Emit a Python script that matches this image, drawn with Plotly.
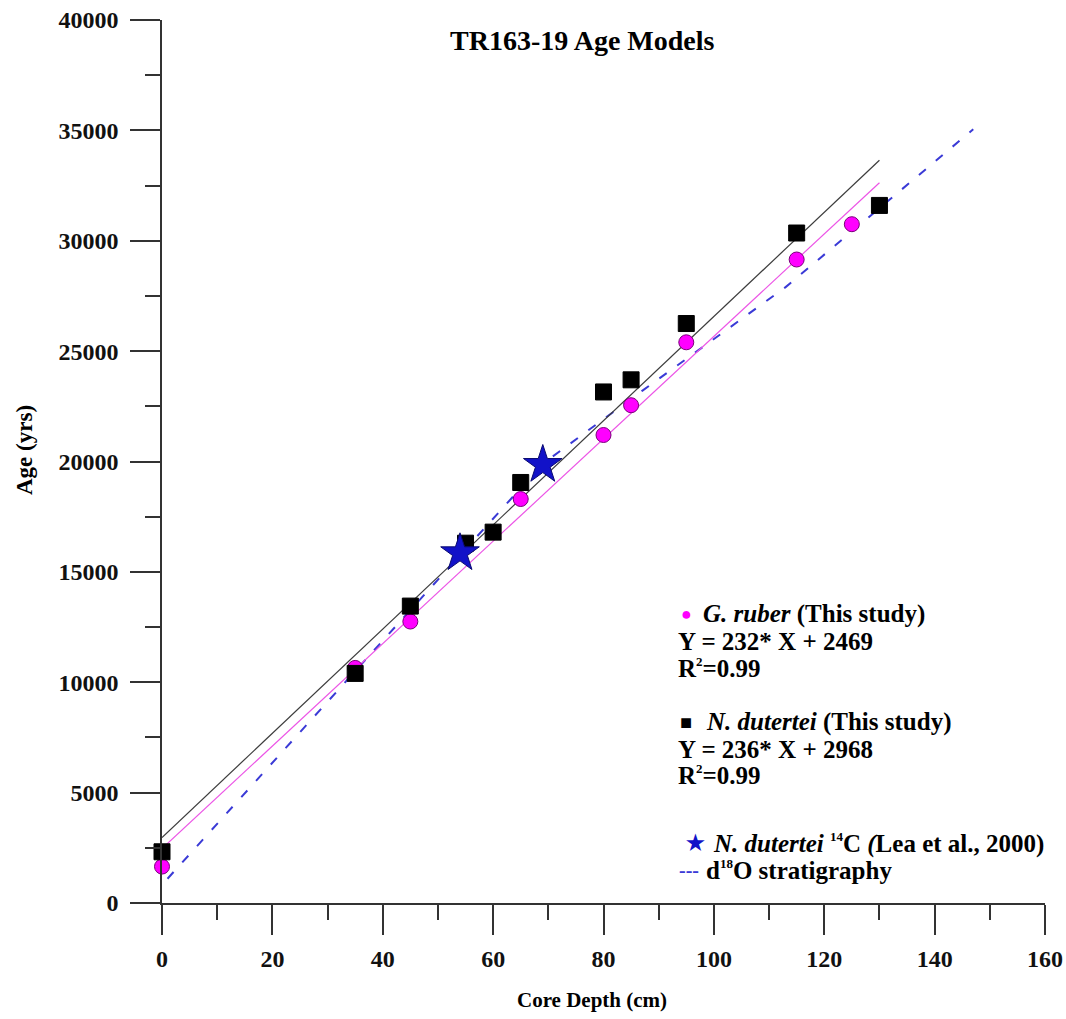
import plotly.graph_objects as go

# ---- data ----
ruber_depth = [0, 35, 45, 65, 80, 85, 95, 115, 125]
ruber_age = [1650, 10650, 12750, 18300, 21200, 22550, 25400, 29150, 30750]

dutertei_depth = [0, 35, 45, 55, 60, 65, 80, 85, 95, 115, 130]
dutertei_age = [2320, 10400, 13450, 16300, 16800, 19050, 23150, 23700, 26250, 30350, 31600]

c14_depth = [54, 69]
c14_age = [15850, 19850]

d18o_depth = [1, 55, 69, 87, 113, 147]
d18o_age = [1100, 16000, 19900, 23200, 27900, 35050]

# regression fits shown in the legend
fit_range = [0, 130]
ruber_slope, ruber_icpt = 232, 2469
dut_slope, dut_icpt = 236, 2968

ruber_fit = [ruber_slope * x + ruber_icpt for x in fit_range]
dut_fit = [dut_slope * x + dut_icpt for x in fit_range]

FONT = "Liberation Serif"

fig = go.Figure()

fig.add_trace(go.Scatter(x=d18o_depth, y=d18o_age, mode="lines",
                         line=dict(color="#3a3ad6", width=2, dash="9px,13px"),
                         cliponaxis=False, showlegend=False))
fig.add_trace(go.Scatter(x=fit_range, y=dut_fit, mode="lines",
                         line=dict(color="#3c3c3c", width=1.2),
                         cliponaxis=False, showlegend=False))
fig.add_trace(go.Scatter(x=fit_range, y=ruber_fit, mode="lines",
                         line=dict(color="#ec55e6", width=1.2),
                         cliponaxis=False, showlegend=False))
fig.add_trace(go.Scatter(x=ruber_depth, y=ruber_age, mode="markers",
                         marker=dict(symbol="circle", size=15, color="#ff00ff",
                                     line=dict(color="#7a007a", width=1)),
                         cliponaxis=False, showlegend=False))
fig.add_trace(go.Scatter(x=dutertei_depth, y=dutertei_age, mode="markers",
                         marker=dict(symbol="square", size=16, color="#000000",
                                     line=dict(color="#000000", width=1)),
                         cliponaxis=False, showlegend=False))
fig.add_trace(go.Scatter(x=c14_depth, y=c14_age, mode="markers",
                         marker=dict(symbol="star", size=29, color="#1212c8",
                                     line=dict(color="#0a0a70", width=1)),
                         cliponaxis=False, showlegend=False))

L, R, T, B = 162, 21, 20, 116
W, H = 1066, 1019
pw, ph = W - L - R, H - T - B


def px(x):
    return (x - L) / pw


def py(y):
    return (H - B - y) / ph


def sup(s):
    return "<sup><span style='font-size:13px'>%s</span></sup>" % s


annotations = []


def ann(text, x, y, color="#000", size=25, xanchor="left", angle=0):
    annotations.append(dict(text=text, x=px(x), y=py(y), xref="paper", yref="paper",
                            xanchor=xanchor, yanchor="middle", showarrow=False,
                            textangle=angle,
                            font=dict(family=FONT, size=size, color=color, weight="bold")))


ann("TR163-19 Age Models", 582, 41, size=28, xanchor="center")
ann("Core Depth (cm)", 592, 1000, size=21, xanchor="center")
ann("Age (yrs)", 24, 450, size=23, xanchor="center", angle=-90)

ann("●", 679, 614, color="#ff00ff", size=18)
ann("<i>G. ruber</i> (This study)", 701, 614)
ann("Y = 232* X + 2469", 676, 642)
ann("R" + sup("2") + "=0.99", 676, 668)

ann("■", 678, 722, size=20)
ann("<i>N. dutertei</i> (This study)", 704, 722)
ann("Y = 236* X + 2968", 676, 749)
ann("R" + sup("2") + "=0.99", 676, 775)

ann("★", 684, 843, color="#1212c8", size=21)
ann("<i>N. dutertei</i> " + sup("14") + "C <i>(</i>Lea et al., 2000)", 711, 843)
ann("---", 677, 870, color="#3a3ad6", size=20)
ann("d" + sup("18") + "O stratigraphy", 704, 870)

axis_common = dict(showline=True, linecolor="#333333", linewidth=1.5,
                   showgrid=False, zeroline=False, ticks="outside", ticklen=30,
                   tickwidth=1.5, tickcolor="#333333", automargin=False,
                   tickfont=dict(family=FONT, size=24, color="#111", weight="bold"))

fig.update_layout(
    width=W, height=H,
    margin=dict(l=L, r=R, t=T, b=B),
    paper_bgcolor="white", plot_bgcolor="white",
    font=dict(family=FONT, color="#111"),
    showlegend=False,
    annotations=annotations,
    xaxis=dict(range=[0, 160], dtick=20, tick0=0,
               minor=dict(ticks="outside", ticklen=15, dtick=10, tick0=0,
                          tickwidth=1.5, tickcolor="#333333"),
               ticklabelstandoff=3,
               **axis_common),
    yaxis=dict(range=[0, 40000], dtick=5000, tick0=0, tickformat="d",
               minor=dict(ticks="outside", ticklen=15, dtick=2500, tick0=0,
                          tickwidth=1.5, tickcolor="#333333"),
               ticklabelstandoff=7,
               **axis_common),
)

fig.write_html("out.html")
